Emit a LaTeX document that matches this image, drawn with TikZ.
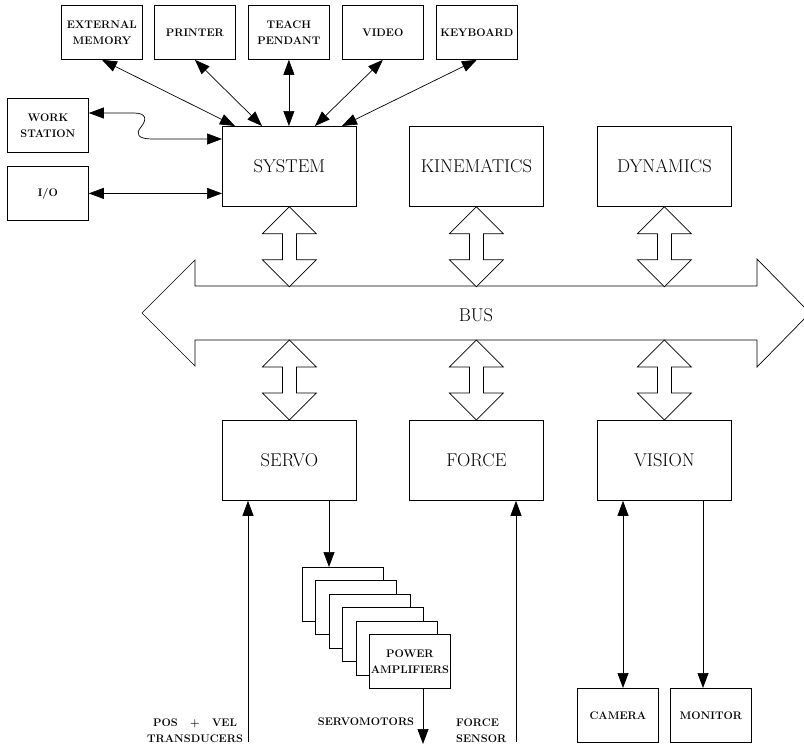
\documentclass[tikz,border=0pt]{standalone}
\usetikzlibrary{arrows.meta,calc}
\begin{document}
\begin{tikzpicture}[x=1pt,y=-1pt,
  bt/.tip={Triangle[length=15pt,width=11pt]},
  box/.style={draw, line width=0.8pt, fill=white, inner sep=1pt, align=center},
  sm/.style={box, minimum width=81pt, minimum height=54pt, font=\bfseries\fontsize{11}{16}\selectfont},
  big/.style={box, minimum width=134pt, minimum height=80pt, font=\fontsize{18.5}{20}\selectfont},
  stk/.style={box, minimum width=81pt, minimum height=54pt, font=\bfseries\fontsize{11}{16}\selectfont},
  lbl/.style={font=\bfseries\fontsize{11}{16}\selectfont, inner sep=0pt},
  both/.style={line width=0.7pt, bt-bt},
  one/.style={line width=0.7pt, -bt},
  blk/.style={draw, line width=0.7pt, fill=white, line join=miter},
  vdbl/.pic={\draw[blk] (0,0) -- (27,27) -- (7,27) -- (7,53) -- (27,53) -- (0,80) -- (-27,53) -- (-7,53) -- (-7,27) -- (-27,27) -- cycle;}
]
\useasboundingbox (0,0) rectangle (804,747);
\clip (0,0) rectangle (804,747);

% top peripheral boxes
\node[sm, anchor=north west] (extmem) at (61,5) {EXTERNAL\\MEMORY};
\node[sm, anchor=north west] (printer) at (154,5) {PRINTER};
\node[sm, anchor=north west] (teach) at (248,5) {TEACH\\PENDANT};
\node[sm, anchor=north west] (video) at (342,5) {VIDEO};
\node[sm, anchor=north west] (keyb) at (436,5) {KEYBOARD};

\node[sm, anchor=north west] (ws) at (7,98) {WORK\\STATION};
\node[sm, anchor=north west] (io) at (7,166) {I/O};

% main boxes
\node[big, anchor=north west] (sys) at (222,126) {SYSTEM};
\node[big, anchor=north west] (kin) at (409,126) {KINEMATICS};
\node[big, anchor=north west] (dyn) at (597,126) {DYNAMICS};
\node[big, anchor=north west] (servo) at (222,420) {SERVO};
\node[big, anchor=north west] (force) at (409,420) {FORCE};
\node[big, anchor=north west] (vision) at (597,420) {VISION};

% bus
\draw[blk] (142,313) -- (195,260) -- (195,286) -- (757,286) -- (757,259) -- (810,313)
  -- (757,367) -- (757,340) -- (195,340) -- (195,366) -- cycle;
\node[font=\fontsize{18.5}{20}\selectfont] (bus) at (476,315) {BUS};

% bus connections
\pic at (sys.south) {vdbl};
\pic at (kin.south) {vdbl};
\pic at (dyn.south) {vdbl};
\pic at ($(servo.north)+(0,-80)$) {vdbl};
\pic at ($(force.north)+(0,-80)$) {vdbl};
\pic at ($(vision.north)+(0,-80)$) {vdbl};

% peripheral connections
\draw[both] (extmem.south) -- ($(sys.north west)+(13,0)$);
\draw[both] (printer.south) -- ($(sys.north west)+(40,0)$);
\draw[both] (teach.south) -- (sys.north -| teach.south);
\draw[both] (video.south) -- ($(sys.north west)+(93,0)$);
\draw[both] (keyb.south) -- ($(sys.north west)+(120,0)$);

\draw[both] ($(ws.north east)+(0,15)$) -- (134,113)
  .. controls (148,113) and (146,121) .. (141,127)
  .. controls (135,134) and (138,139) .. (152,139)
  -- ($(sys.north west)+(0,13)$);
\draw[both] (io.east) -- (io.east -| sys.west);

% power amplifier stack
\foreach \i in {0,...,4}
  \node[stk, anchor=north west] (amp\i) at ({302+13.4*\i},{567+13.4*\i}) {};
\node[stk, anchor=north west] (pa) at (369,634) {POWER\\AMPLIFIERS};

\draw[one] ($(servo.south west)+(107,0)$) -- ($(amp0.north west)+(27,0)$);

% free ends
\coordinate (trans) at (248,742);
\coordinate (motors) at (423,744);
\coordinate (fsens) at (516,742);

\draw[one] (trans) -- (trans |- servo.south);
\draw[one] (pa.south -| motors) -- (motors);
\draw[one] (fsens) -- (fsens |- force.south);

\node[lbl, align=center] (translbl) at (195,731) {POS \ \ + \ \ VEL\\TRANSDUCERS};
\node[lbl] (motlbl) at (366,722) {SERVOMOTORS};
\node[lbl, align=left, anchor=west] (fslbl) at (456,731) {FORCE\\SENSOR};

% vision peripherals
\node[sm, anchor=north west] (camera) at (577,688) {CAMERA};
\node[sm, anchor=north west] (monitor) at (670,688) {MONITOR};
\draw[both] ($(vision.south west)+(26,0)$) -- ($(camera.north west)+(46,0)$);
\draw[one] ($(vision.south west)+(106,0)$) -- ($(monitor.north west)+(33,0)$);
\end{tikzpicture}
\end{document}
